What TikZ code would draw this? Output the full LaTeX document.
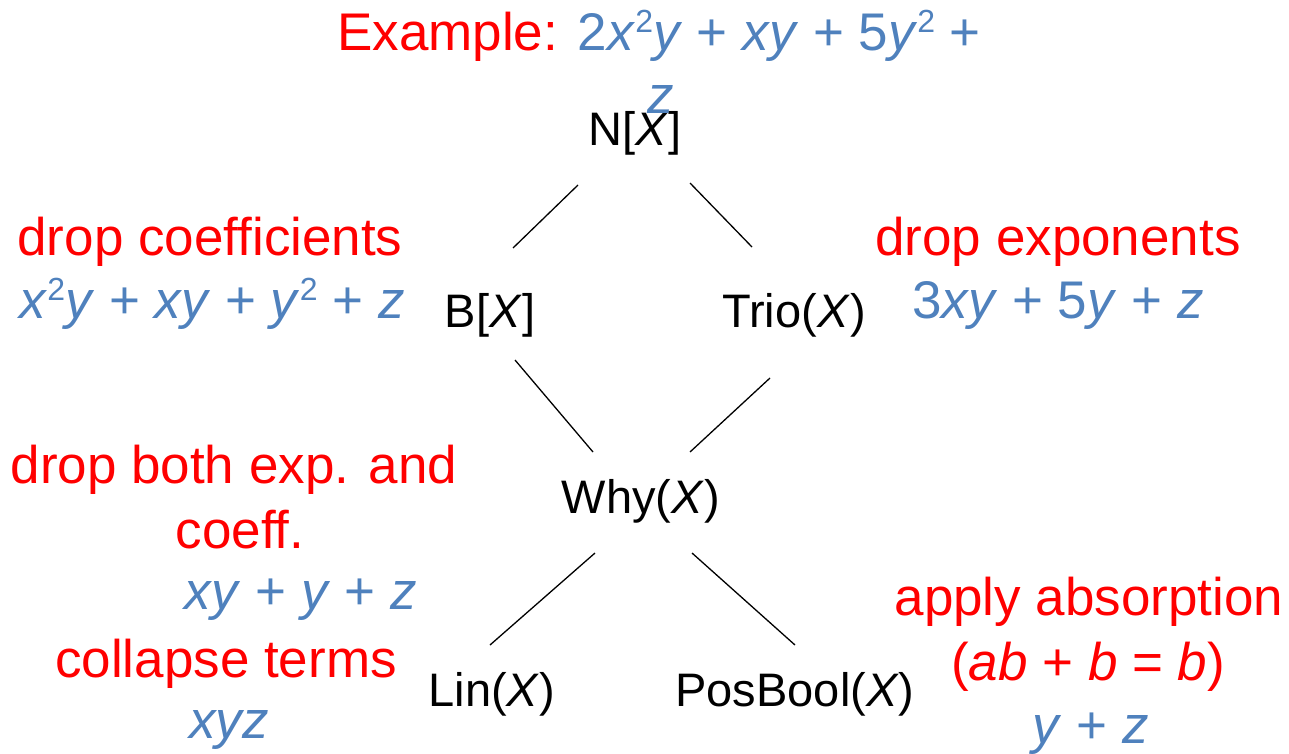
\documentclass[tikz,border=0pt]{standalone}
\usepackage{fontspec}
\setmainfont{Liberation Sans}
\definecolor{myred}{RGB}{255,0,0}
\definecolor{myblue}{RGB}{79,129,189}
\newcommand{\iv}[1]{\textit{#1}}
\newcommand{\sqr}{\raisebox{18pt}{\fontsize{32}{36}\selectfont 2}}
\tikzset{
  big/.style={font=\fontsize{53}{60}\selectfont, inner sep=0pt, anchor=base},
  redtxt/.style={big, text=myred},
  bluetxt/.style={big, text=myblue},
  lat/.style={font=\fontsize{47}{54}\selectfont, inner sep=0pt, anchor=base, text=black},
  conn/.style={draw=black, line width=1.3pt}
}
\begin{document}
\begin{tikzpicture}[x=1pt,y=-1pt]
\useasboundingbox (0,0) rectangle (1289,753);
% lattice nodes
\node[lat] (N) at (635,145) {N[\iv{X}]};
\node[lat] (B) at (490,327) {B[\iv{X}]};
\node[lat] (T) at (794,327) {Trio(\iv{X})};
\node[lat] (W) at (641,513) {Why(\iv{X})};
\node[lat] (L) at (492,706) {Lin(\iv{X})};
\node[lat] (P) at (795,706) {PosBool(\iv{X})};
% annotations
\node[redtxt] (ex1) at (659,50) {Example: \textcolor{myblue}{2\iv{x}\sqr\iv{y} + \iv{xy} + 5\iv{y}\sqr{} +}};
\node[bluetxt] (ex2) at (661,113) {\iv{z}};
\node[redtxt] (dc) at (210,255) {drop coefficients};
\node[bluetxt] (dcv) at (212,318) {\iv{x}\sqr\iv{y} + \iv{xy} + \iv{y}\sqr{} + \iv{z}};
\node[redtxt] (de) at (1058,255) {drop exponents};
\node[bluetxt] (dev) at (1058,318) {3\iv{xy} + 5\iv{y} + \iv{z}};
\node[redtxt] (db1) at (234,483) {drop both exp. and};
\node[redtxt] (db2) at (240,548) {coeff.};
\node[bluetxt] (dbv) at (301,609) {\iv{xy} + \iv{y} + \iv{z}};
\node[redtxt] (ct) at (226,677) {collapse terms};
\node[bluetxt] (ctv) at (229,738) {\iv{xyz}};
\node[redtxt] (aa1) at (1089,615) {apply absorption};
\node[redtxt] (aa2) at (1088,680) {(\iv{ab} + \iv{b} = \iv{b})};
\node[bluetxt] (aav) at (1091,743) {\iv{y} + \iv{z}};
% connectors
\draw[conn] ([shift={(-57,40)}]N.base) -- ([shift={(23,-79)}]B.base);
\draw[conn] ([shift={(55,38)}]N.base) -- ([shift={(-42,-80)}]T.base);
\draw[conn] ([shift={(25,33)}]B.base) -- ([shift={(-48,-61)}]W.base);
\draw[conn] ([shift={(-24,51)}]T.base) -- ([shift={(49,-61)}]W.base);
\draw[conn] ([shift={(-46,40)}]W.base) -- ([shift={(-2,-61)}]L.base);
\draw[conn] ([shift={(51,40)}]W.base) -- ([shift={(0,-61)}]P.base);
\end{tikzpicture}
\end{document}
